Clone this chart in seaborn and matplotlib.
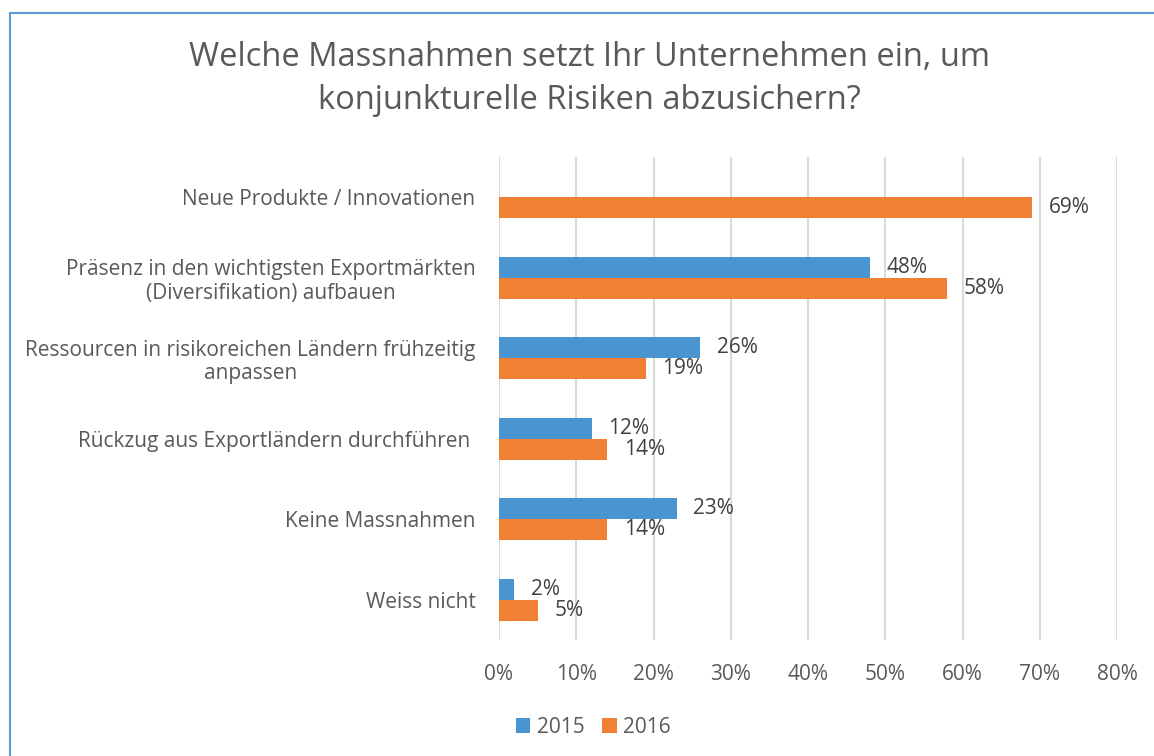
import numpy as np
import pandas as pd
import matplotlib
matplotlib.use("Agg")
import matplotlib.pyplot as plt
import seaborn as sns
from matplotlib.lines import Line2D

categories = [
    "Neue Produkte / Innovationen",
    "Präsenz in den wichtigsten Exportmärkten\n(Diversifikation) aufbauen",
    "Ressourcen in risikoreichen Ländern frühzeitig\nanpassen",
    "Rückzug aus Exportländern durchführen ",
    "Keine Massnahmen",
    "Weiss nicht",
]
values_2015 = [np.nan, 48, 26, 12, 23, 2]
values_2016 = [69, 58, 19, 14, 14, 5]
years = ["2015", "2016"]
x_ticks = [0, 10, 20, 30, 40, 50, 60, 70, 80]
title = "Welche Massnahmen setzt Ihr Unternehmen ein, um\nkonjunkturelle Risiken abzusichern?"

df = pd.DataFrame({
    "cat": categories * 2,
    "year": [years[0]] * len(categories) + [years[1]] * len(categories),
    "value": values_2015 + values_2016,
})

sns.set_theme(style="white")
plt.rcParams["font.family"] = ["Open Sans", "DejaVu Sans"]

TXT = "#595959"
FS = 15
fig = plt.figure(figsize=(11.54, 7.56), dpi=100)
ax = fig.add_axes([0.4324, 0.1534, 0.968 - 0.4324, 0.7923 - 0.1534])

palette = {"2015": "#4A94D0", "2016": "#F08033"}
sns.barplot(data=df, y="cat", x="value", hue="year", order=categories,
            hue_order=years, palette=palette, orient="h", width=0.52,
            dodge=True, ax=ax, saturation=1, legend=True,
            edgecolor="none", linewidth=0)

ax.set_xlim(0, 80)
ax.set_ylim(len(categories) - 0.5, -0.5)
ax.set_xticks(x_ticks)
ax.set_xticklabels([f"{t}%" for t in x_ticks], fontsize=FS, color=TXT)
ax.tick_params(axis="x", length=0, pad=17)
ax.tick_params(axis="y", length=0, pad=17)
for lbl in ax.get_yticklabels():
    lbl.set_fontsize(FS)
    lbl.set_color(TXT)
    lbl.set_multialignment("center")
    lbl.set_linespacing(1.15)
ax.set_xlabel("")
ax.set_ylabel("")
ax.grid(axis="x", color="#D9D9D9", linewidth=1.5)
ax.grid(axis="y", visible=False)
ax.set_axisbelow(True)
for s in ax.spines.values():
    s.set_visible(False)

for cont in ax.containers:
    ax.bar_label(cont, labels=[("" if np.isnan(v) else f"{v:.0f}%") for v in cont.datavalues],
                 padding=12, fontsize=FS, color="#404040")

handles, labels = ax.get_legend_handles_labels()
ax.legend_.remove()
fig.legend(handles, labels, loc="center", bbox_to_anchor=(0.514, 0.038), ncol=2,
           frameon=False, fontsize=FS, handlelength=0.7, handleheight=0.7,
           handletextpad=0.3, columnspacing=0.85, labelcolor=TXT)

fig.text(0.511, 0.895, title, ha="center", va="center", fontsize=23.5,
         color=TXT, linespacing=1.4)

fig.add_artist(Line2D([10 / 1154, 1.0], [1 - 13 / 756, 1 - 13 / 756],
                      transform=fig.transFigure, color="#5B9BD5", linewidth=1.5))
fig.add_artist(Line2D([10 / 1154, 10 / 1154], [0.0, 1 - 13 / 756],
                      transform=fig.transFigure, color="#5B9BD5", linewidth=1.5))

fig.savefig("out.png", dpi=100, facecolor="white")
